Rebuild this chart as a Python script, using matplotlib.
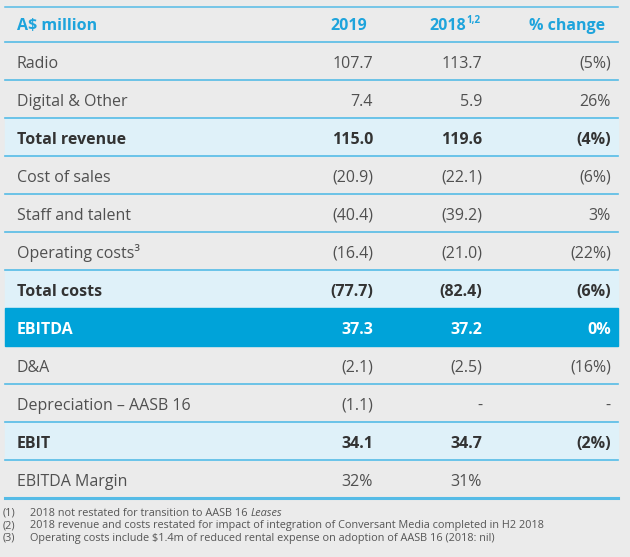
import matplotlib.pyplot as plt
from matplotlib.patches import Rectangle

plt.rcParams['font.family'] = ['Open Sans', 'DejaVu Sans']

labels = ["Radio", "Digital & Other", "Total revenue", "Cost of sales", "Staff and talent",
          "Operating costs\u00b3", "Total costs", "EBITDA", "D&A", "Depreciation \u2013 AASB 16",
          "EBIT", "EBITDA Margin"]
v2019 = ["107.7", "7.4", "115.0", "(20.9)", "(40.4)", "(16.4)", "(77.7)", "37.3", "(2.1)", "(1.1)", "34.1", "32%"]
v2018 = ["113.7", "5.9", "119.6", "(22.1)", "(39.2)", "(21.0)", "(82.4)", "37.2", "(2.5)", "-", "34.7", "31%"]
change = ["(5%)", "26%", "(4%)", "(6%)", "3%", "(22%)", "(6%)", "0%", "(16%)", "-", "(2%)", ""]
headers = ["A$ million", "2019", "2018", "% change"]
footnotes = ["2018 not restated for transition to AASB 16 ",
             "2018 revenue and costs restated for impact of integration of Conversant Media completed in H2 2018",
             "Operating costs include $1.4m of reduced rental expense on adoption of AASB 16 (2018: nil)"]

bold_rows = ["Total revenue", "Total costs", "EBIT"]
dark_row = "EBITDA"

bg = "#ebebeb"
blue = "#1ea4dc"
line_c = "#55bbe6"
light = "#dff1f9"
dark = "#00a3d9"
txt = "#505050"

fig = plt.figure(figsize=(6.3, 5.57), dpi=100, facecolor=bg)
ax = fig.add_axes([0, 0, 1, 1])
ax.set_xlim(0, 630)
ax.set_ylim(557, 0)
ax.axis("off")

x0, x1 = 5, 618
top, head_h, row_h = 7, 35, 38
col_x = [17, 373, 482, 611]
fs = 11.5

# header
ax.plot([x0, x1], [top, top], color=line_c, lw=1.1)
hy = top + head_h / 2 + 1.5
ax.text(col_x[0], hy, headers[0], color=blue, fontsize=fs, fontweight="bold", va="center", ha="left")
ax.text(367, hy, headers[1], color=blue, fontsize=fs, fontweight="bold", va="center", ha="right")
ax.text(466, hy, headers[2], color=blue, fontsize=fs, fontweight="bold", va="center", ha="right")
ax.text(466.5, hy - 6, "1,2", color=blue, fontsize=7, fontweight="bold", va="center", ha="left")
ax.text(605, hy, headers[3], color=blue, fontsize=fs, fontweight="bold", va="center", ha="right")

y = top + head_h
ax.plot([x0, x1], [y, y], color=line_c, lw=1.2)
for i, lab in enumerate(labels):
    color = txt
    weight = "normal"
    if lab in bold_rows:
        ax.add_patch(Rectangle((x0, y), x1 - x0, row_h, color=light, zorder=0))
        weight = "bold"
        color = "#333333"
    elif lab == dark_row:
        ax.add_patch(Rectangle((x0, y), x1 - x0, row_h, color=dark, zorder=0))
        weight = "bold"
        color = "white"
    cy = y + row_h / 2 + 2.5
    ax.text(col_x[0], cy, lab, color=color, fontsize=fs, fontweight=weight, va="center", ha="left")
    ax.text(col_x[1], cy, v2019[i], color=color, fontsize=fs, fontweight=weight, va="center", ha="right")
    ax.text(col_x[2], cy, v2018[i], color=color, fontsize=fs, fontweight=weight, va="center", ha="right")
    ax.text(col_x[3], cy, change[i], color=color, fontsize=fs, fontweight=weight, va="center", ha="right")
    y += row_h
    last = i == len(labels) - 1
    if lab != dark_row and (i + 1 < len(labels) and labels[i + 1] != dark_row or last):
        ax.plot([x0, x1], [y, y], color=line_c, lw=2.2 if last else 1.2)

# footnotes
fy = y + 15
for k, note in enumerate(footnotes):
    ax.text(3, fy, "(%d)" % (k + 1), color="#555555", fontsize=7.8, va="center", ha="left")
    t = ax.text(30, fy, note, color="#555555", fontsize=7.8, va="center", ha="left")
    if k == 0:
        ax.annotate("Leases", xycoords=t, xy=(1, 0.5), va="center", ha="left",
                    color="#555555", fontsize=7.8, style="italic")
    fy += 12.5

fig.savefig("out.png", dpi=100, facecolor=bg)
